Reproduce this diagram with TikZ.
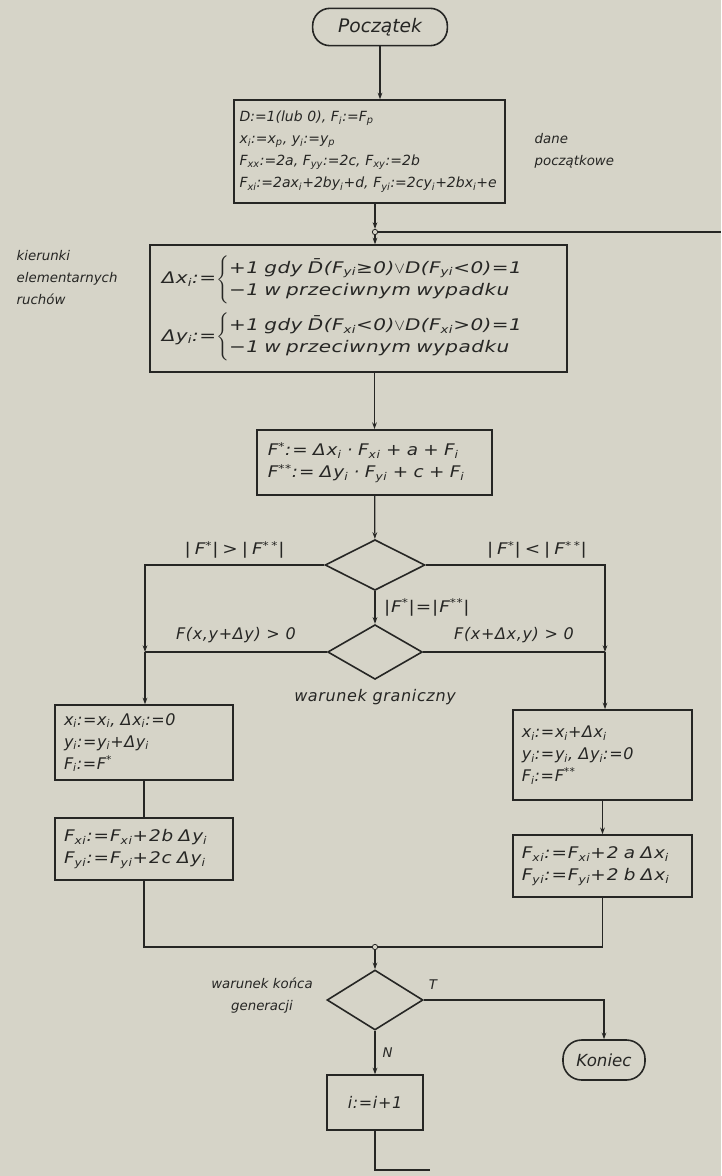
\documentclass[tikz,border=0pt]{standalone}
\usepackage{fontspec}
\setmainfont{DejaVu Sans}
\usepackage{amsmath}
\usepackage{xcolor}
\usepackage{tikz}
\usetikzlibrary{shapes.geometric,arrows.meta}

\definecolor{paper}{RGB}{214,212,200}
\definecolor{ink}{RGB}{38,38,36}

\newcommand{\sub}[1]{\textsubscript{#1}}
\newcommand{\st}{\textsuperscript{*}}
\newcommand{\sst}{\textsuperscript{**}}

\tikzset{
  every node/.style={font=\itshape\fontsize{10}{16.5}\selectfont, text=ink},
  big/.style={font=\itshape\fontsize{12}{16.5}\selectfont\addfontfeatures{LetterSpace=4}},
  wide/.style={font=\itshape\fontsize{12}{16.5}\selectfont\addfontfeatures{FakeStretch=1.15,LetterSpace=6}},
  sparse/.style={font=\itshape\fontsize{12}{16.5}\selectfont\addfontfeatures{FakeStretch=1.15,LetterSpace=25}},
  term/.style={draw=ink, line width=1.2pt, rounded corners=13pt, minimum height=28pt},
  proc/.style={draw=ink, line width=1.2pt, align=left, inner sep=4pt},
  cond/.style={diamond, draw=ink, line width=1.2pt, inner sep=0pt},
  junct/.style={circle, draw=ink, fill=paper, line width=0.6pt, inner sep=0pt, minimum size=4pt},
  flow/.style={draw=ink, line width=0.9pt, -{Stealth[length=5pt,width=3.5pt]}},
  wire/.style={draw=ink, line width=0.9pt}
}

\begin{document}
\begin{tikzpicture}[x=0.75pt,y=0.75pt,yscale=-1,xscale=1]

\fill[paper] (0,0) rectangle (721,1176);
\useasboundingbox (0,0) rectangle (721,1176);

% start and initial data
\node[term, minimum width=101pt, font=\itshape\fontsize{14}{16}\selectfont] (start) at (380,27) {Początek};

\node[proc, minimum height=77pt, text width=195pt, font=\itshape\fontsize{10.5}{16.5}\selectfont] (init) at (369.5,151.5)
  {D:=1(lub 0), F\sub{i}:=F\sub{p}\\
   x\sub{i}:=x\sub{p}, y\sub{i}:=y\sub{p}\\
   F\sub{xx}:=2a, F\sub{yy}:=2c, F\sub{xy}:=2b\\
   F\sub{xi}:=2ax\sub{i}+2by\sub{i}+d, F\sub{yi}:=2cy\sub{i}+2bx\sub{i}+e};

\node[anchor=west, align=left] (dane) at (530,151) {dane\\początkowe};

\node[junct] (j1) at (375,232) {};
\coordinate (loopR) at (721,232);

% directions of elementary moves
\node[proc, inner xsep=9pt, text width=295pt, minimum height=95pt,
      font=\itshape\fontsize{12}{16.5}\selectfont\addfontfeatures{FakeStretch=1.25,LetterSpace=3}] (dir) at (358.5,308.5)
  {\begin{tabular}{@{}l@{}}
   Δx\sub{i}:=$\left\{\mbox{\begin{tabular}{@{}l@{}}
     +1 gdy \=D(F\sub{yi}≥0)$\vee$D(F\sub{yi}<0)=1\\
     −1 w przeciwnym wypadku\end{tabular}}\right.$\\[17pt]
   Δy\sub{i}:=$\left\{\mbox{\begin{tabular}{@{}l@{}}
     +1 gdy \=D(F\sub{xi}<0)$\vee$D(F\sub{xi}>0)=1\\
     −1 w przeciwnym wypadku\end{tabular}}\right.$
   \end{tabular}};

\node[anchor=west, align=left] (kier) at (12,278) {kierunki\\elementarnych\\ruchów};

% trial values
\node[proc, wide, inner xsep=8pt, text width=160pt, minimum height=49pt] (calc) at (374.5,462.5)
  {F\st:= Δx\sub{i} · F\sub{xi} +  a  + F\sub{i}\\
   F\sst:= Δy\sub{i} · F\sub{yi} + c + F\sub{i}};

% decisions
\node[cond, minimum width=75pt, minimum height=38pt] (d1) at (375,565) {};
\node[cond, minimum width=71pt, minimum height=41pt] (d2) at (375,652) {};
\node[big] (warg) at (375,697) {warunek graniczny};

\coordinate (jl) at (145,652);
\coordinate (jr) at (605,652);

% updates
\node[proc, big, minimum width=133.5pt, minimum height=56pt, text width=120pt] (upA) at (144,742.5)
  {x\sub{i}:=x\sub{i}, Δx\sub{i}:=0\\
   y\sub{i}:=y\sub{i}+Δy\sub{i}\\
   F\sub{i}:=F\st};
\node[proc, big, minimum width=134pt, minimum height=67.5pt, text width=121pt] (upB) at (602.5,755)
  {x\sub{i}:=x\sub{i}+Δx\sub{i}\\
   y\sub{i}:=y\sub{i}, Δy\sub{i}:=0\\
   F\sub{i}:=F\sst};
\node[proc, wide, minimum width=133.5pt, minimum height=46.5pt, text width=120pt] (upC) at (144,849)
  {F\sub{xi}:=F\sub{xi}+2b Δy\sub{i}\\
   F\sub{yi}:=F\sub{yi}+2c Δy\sub{i}};
\node[proc, wide, minimum width=134pt, minimum height=46.5pt, text width=121pt] (upD) at (602.5,866)
  {F\sub{xi}:=F\sub{xi}+2 a Δx\sub{i}\\
   F\sub{yi}:=F\sub{yi}+2 b Δx\sub{i}};

\node[junct] (j2) at (375,947) {};

% end condition
\node[cond, minimum width=72pt, minimum height=45pt] (d3) at (375,1000) {};
\node[align=center] (wark) at (262,996) {warunek końca\\generacji};
\node[term, minimum width=61.5pt, minimum height=30pt, rounded corners=14pt,
      font=\itshape\fontsize{12.5}{15}\selectfont] (fin) at (604,1060) {Koniec};
\node[proc, big, align=center, minimum width=72pt, minimum height=41pt] (inc) at (375,1102.5) {i:=i+1};
\node (lblT) at (433,985) {T};
\coordinate (loopB) at (430,1170);

% connectors
\draw[flow] (start) -- (start |- init.north);
\draw[flow] (init.south -| j1) -- (j1);
\draw[wire] (j1) -- (loopR);
\draw[flow] (j1) -- (j1 |- dir.north);
\draw[flow] (calc |- dir.south) -- (calc.north);
\draw[flow] (calc) -- (d1);
\draw[flow] (d1) -- node[right=3pt, wide] {|F\st|=|F\sst|} (d2);

\draw[flow] (d1.west) -- node[above=1pt, sparse] {|F\st|>|F\sst|} (d1.west -| jl) -- (jl);
\draw[flow] (d1.east) -- node[above=1pt, pos=0.62, sparse] {|F\st|<|F\sst|} (d1.east -| jr) -- (jr);
\draw[wire] (d2.west) -- node[above=3pt, big] {F(x,y+Δy) > 0} (jl);
\draw[wire] (d2.east) -- node[above=3pt, big] {F(x+Δx,y) > 0} (jr);

\draw[flow] (jl) -- (jl |- upA.north);
\draw[flow] (jr) -- (jr |- upB.north);
\draw[wire] (upA) -- (upC);
\draw[flow] (upB) -- (upD);

\draw[wire] (upC.south) -- (upC.south |- j2) -- (j2);
\draw[wire] (upD.south) -- (upD.south |- j2) -- (j2);
\draw[flow] (j2) -- (d3);

\draw[flow] (d3.east) -- (d3.east -| fin) -- (fin);
\draw[flow] (d3) -- node[right=2pt] {N} (inc);
\draw[wire] (inc) -- (inc |- loopB) -- (loopB);

\end{tikzpicture}
\end{document}
